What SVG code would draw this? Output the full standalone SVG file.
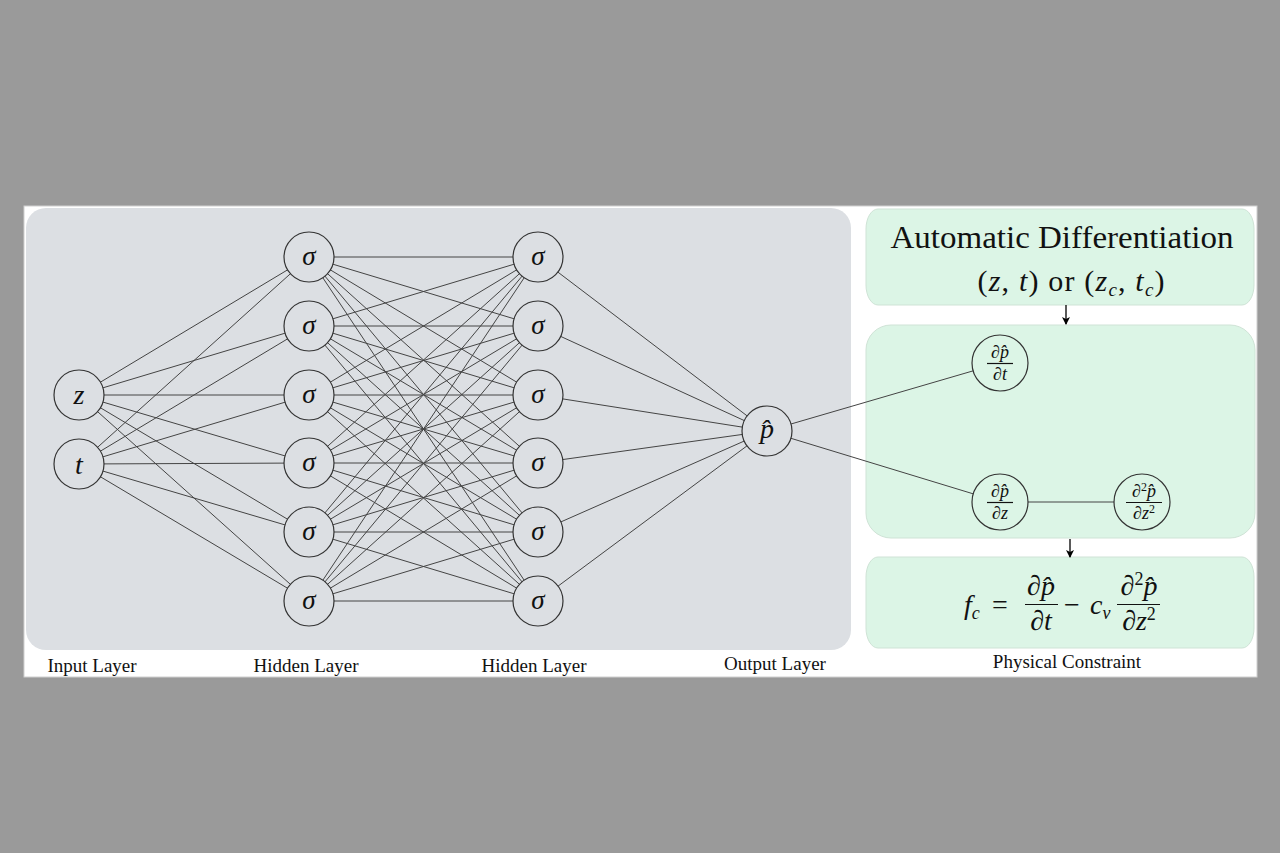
<svg xmlns="http://www.w3.org/2000/svg" width="1280" height="853" viewBox="0 0 1280 853">
<defs>
<marker id="ah" markerWidth="8" markerHeight="8" refX="7" refY="4" orient="auto" markerUnits="userSpaceOnUse">
<path d="M0,0 L8,4 L0,8 L2,4 Z" fill="#000"/>
</marker>
</defs>
<style>
.nn{fill:#dcdfe3;stroke:#333;stroke-width:1.2}
.gn{fill:#dcf5e6;stroke:#333;stroke-width:1.2}
.m{font-family:"Liberation Serif","DejaVu Serif",serif;font-style:italic;fill:#111}
.r{font-family:"Liberation Serif","DejaVu Serif",serif;fill:#111}
.lbl{font-family:"Liberation Serif","DejaVu Serif",serif;font-size:19px;fill:#111;text-anchor:middle}
.c line{stroke:#444;stroke-width:1}
.bar{stroke:#111;stroke-width:1.2}
</style>
<rect x="0" y="0" width="1280" height="853" fill="#9a9a9a"/>
<rect x="24" y="206" width="1233" height="471" fill="#ffffff" stroke="#cfcfcf"/>
<rect x="26" y="208" width="825" height="442" rx="20" fill="#dcdfe3"/>
<rect x="866" y="209" width="388" height="96" rx="12" ry="20" fill="#dcf5e6" stroke="#cfe3d6"/>
<rect x="866" y="325" width="389" height="213" rx="25" fill="#dcf5e6" stroke="#cfe3d6"/>
<rect x="866" y="557" width="388" height="91" rx="12" ry="20" fill="#dcf5e6" stroke="#cfe3d6"/>

<g id="connectors" class="c">
<line x1="79" y1="395" x2="309" y2="257"/><line x1="79" y1="395" x2="309" y2="326"/><line x1="79" y1="395" x2="309" y2="395"/><line x1="79" y1="395" x2="309" y2="463"/><line x1="79" y1="395" x2="309" y2="532"/><line x1="79" y1="395" x2="309" y2="601"/>
<line x1="79" y1="464" x2="309" y2="257"/><line x1="79" y1="464" x2="309" y2="326"/><line x1="79" y1="464" x2="309" y2="395"/><line x1="79" y1="464" x2="309" y2="463"/><line x1="79" y1="464" x2="309" y2="532"/><line x1="79" y1="464" x2="309" y2="601"/>
<line x1="309" y1="257" x2="538" y2="257"/><line x1="309" y1="257" x2="538" y2="326"/><line x1="309" y1="257" x2="538" y2="395"/><line x1="309" y1="257" x2="538" y2="463"/><line x1="309" y1="257" x2="538" y2="532"/><line x1="309" y1="257" x2="538" y2="601"/>
<line x1="309" y1="326" x2="538" y2="257"/><line x1="309" y1="326" x2="538" y2="326"/><line x1="309" y1="326" x2="538" y2="395"/><line x1="309" y1="326" x2="538" y2="463"/><line x1="309" y1="326" x2="538" y2="532"/><line x1="309" y1="326" x2="538" y2="601"/>
<line x1="309" y1="395" x2="538" y2="257"/><line x1="309" y1="395" x2="538" y2="326"/><line x1="309" y1="395" x2="538" y2="395"/><line x1="309" y1="395" x2="538" y2="463"/><line x1="309" y1="395" x2="538" y2="532"/><line x1="309" y1="395" x2="538" y2="601"/>
<line x1="309" y1="463" x2="538" y2="257"/><line x1="309" y1="463" x2="538" y2="326"/><line x1="309" y1="463" x2="538" y2="395"/><line x1="309" y1="463" x2="538" y2="463"/><line x1="309" y1="463" x2="538" y2="532"/><line x1="309" y1="463" x2="538" y2="601"/>
<line x1="309" y1="532" x2="538" y2="257"/><line x1="309" y1="532" x2="538" y2="326"/><line x1="309" y1="532" x2="538" y2="395"/><line x1="309" y1="532" x2="538" y2="463"/><line x1="309" y1="532" x2="538" y2="532"/><line x1="309" y1="532" x2="538" y2="601"/>
<line x1="309" y1="601" x2="538" y2="257"/><line x1="309" y1="601" x2="538" y2="326"/><line x1="309" y1="601" x2="538" y2="395"/><line x1="309" y1="601" x2="538" y2="463"/><line x1="309" y1="601" x2="538" y2="532"/><line x1="309" y1="601" x2="538" y2="601"/>
<line x1="538" y1="257" x2="767" y2="431"/><line x1="538" y1="326" x2="767" y2="431"/><line x1="538" y1="395" x2="767" y2="431"/><line x1="538" y1="463" x2="767" y2="431"/><line x1="538" y1="532" x2="767" y2="431"/><line x1="538" y1="601" x2="767" y2="431"/>
<line x1="767" y1="431" x2="1000" y2="363"/><line x1="767" y1="431" x2="1000" y2="502"/><line x1="1000" y1="502" x2="1142" y2="502"/>
<line x1="1066" y1="305" x2="1066" y2="324" style="stroke:#000;stroke-width:1.3" marker-end="url(#ah)"/>
<line x1="1070" y1="539" x2="1070" y2="557" style="stroke:#000;stroke-width:1.3" marker-end="url(#ah)"/>
</g>

<g id="in-z"><circle class="nn" cx="79" cy="395" r="25"/><text class="m" x="79" y="404" font-size="28" text-anchor="middle">z</text></g>
<g id="in-t"><circle class="nn" cx="79" cy="464" r="25"/><text class="m" x="79" y="474" font-size="28" text-anchor="middle">t</text></g>

<g id="h1-1"><circle class="nn" cx="309" cy="257" r="25"/><text class="m" x="309" y="265" font-size="27" text-anchor="middle">σ</text></g>
<g id="h1-2"><circle class="nn" cx="309" cy="326" r="25"/><text class="m" x="309" y="334" font-size="27" text-anchor="middle">σ</text></g>
<g id="h1-3"><circle class="nn" cx="309" cy="395" r="25"/><text class="m" x="309" y="403" font-size="27" text-anchor="middle">σ</text></g>
<g id="h1-4"><circle class="nn" cx="309" cy="463" r="25"/><text class="m" x="309" y="471" font-size="27" text-anchor="middle">σ</text></g>
<g id="h1-5"><circle class="nn" cx="309" cy="532" r="25"/><text class="m" x="309" y="540" font-size="27" text-anchor="middle">σ</text></g>
<g id="h1-6"><circle class="nn" cx="309" cy="601" r="25"/><text class="m" x="309" y="609" font-size="27" text-anchor="middle">σ</text></g>

<g id="h2-1"><circle class="nn" cx="538" cy="257" r="25"/><text class="m" x="538" y="265" font-size="27" text-anchor="middle">σ</text></g>
<g id="h2-2"><circle class="nn" cx="538" cy="326" r="25"/><text class="m" x="538" y="334" font-size="27" text-anchor="middle">σ</text></g>
<g id="h2-3"><circle class="nn" cx="538" cy="395" r="25"/><text class="m" x="538" y="403" font-size="27" text-anchor="middle">σ</text></g>
<g id="h2-4"><circle class="nn" cx="538" cy="463" r="25"/><text class="m" x="538" y="471" font-size="27" text-anchor="middle">σ</text></g>
<g id="h2-5"><circle class="nn" cx="538" cy="532" r="25"/><text class="m" x="538" y="540" font-size="27" text-anchor="middle">σ</text></g>
<g id="h2-6"><circle class="nn" cx="538" cy="601" r="25"/><text class="m" x="538" y="609" font-size="27" text-anchor="middle">σ</text></g>

<g id="out-p"><circle class="nn" cx="767" cy="431" r="25"/><text class="m" x="767" y="438" font-size="28" text-anchor="middle">p̂</text></g>

<g id="dp-dt"><circle class="gn" cx="1000" cy="363" r="28"/>
<text class="m" x="1000" y="358" font-size="18" text-anchor="middle">∂p̂</text>
<line class="bar" x1="987" y1="363.5" x2="1013" y2="363.5"/>
<text class="m" x="1000" y="380" font-size="18" text-anchor="middle">∂t</text></g>

<g id="dp-dz"><circle class="gn" cx="1000" cy="502" r="28"/>
<text class="m" x="1000" y="497" font-size="18" text-anchor="middle">∂p̂</text>
<line class="bar" x1="987" y1="502.5" x2="1013" y2="502.5"/>
<text class="m" x="1000" y="519" font-size="18" text-anchor="middle">∂z</text></g>

<g id="d2p-dz2"><circle class="gn" cx="1142" cy="502" r="28"/>
<text class="m" x="1144" y="497" font-size="18" text-anchor="middle">∂<tspan font-style="normal" font-size="12" dy="-6">2</tspan><tspan dy="6">p̂</tspan></text>
<line class="bar" x1="1126" y1="502.5" x2="1162" y2="502.5"/>
<text class="m" x="1144" y="519" font-size="18" text-anchor="middle">∂z<tspan font-style="normal" font-size="12" dy="-6">2</tspan></text></g>

<g id="autodiff">
<text class="r" x="1062" y="248" font-size="31" text-anchor="middle" textLength="343" lengthAdjust="spacingAndGlyphs">Automatic Differentiation</text>
<text class="r" x="1071" y="291" font-size="30" text-anchor="middle" textLength="187" lengthAdjust="spacing">(<tspan font-style="italic">z</tspan>, <tspan font-style="italic">t</tspan>) or (<tspan font-style="italic">z</tspan><tspan font-style="italic" font-size="19" dy="5">c</tspan><tspan dy="-5">, </tspan><tspan font-style="italic">t</tspan><tspan font-style="italic" font-size="19" dy="5">c</tspan><tspan dy="-5">)</tspan></text>
</g>

<g id="constraint">
<text class="m" x="964" y="614" font-size="28">f<tspan font-size="18" dy="5">c</tspan></text>
<text class="r" x="992" y="614" font-size="28">=</text>
<text class="m" x="1041" y="595" font-size="28" text-anchor="middle">∂p̂</text>
<line class="bar" x1="1025" y1="604.5" x2="1058" y2="604.5"/>
<text class="m" x="1041" y="630" font-size="28" text-anchor="middle">∂t</text>
<text class="r" x="1064" y="614" font-size="28">−</text>
<text class="m" x="1090" y="614" font-size="28">c<tspan font-size="18" dy="5">v</tspan></text>
<text class="m" x="1139" y="595" font-size="28" text-anchor="middle">∂<tspan font-style="normal" font-size="18" dy="-10">2</tspan><tspan dy="10">p̂</tspan></text>
<line class="bar" x1="1117" y1="604.5" x2="1160" y2="604.5"/>
<text class="m" x="1139" y="630" font-size="28" text-anchor="middle">∂z<tspan font-style="normal" font-size="18" dy="-10">2</tspan></text>
</g>

<g id="labels">
<text class="lbl" x="92" y="672">Input Layer</text>
<text class="lbl" x="306" y="672">Hidden Layer</text>
<text class="lbl" x="534" y="672">Hidden Layer</text>
<text class="lbl" x="775" y="670">Output Layer</text>
<text class="lbl" x="1067" y="668">Physical Constraint</text>
</g>
</svg>
